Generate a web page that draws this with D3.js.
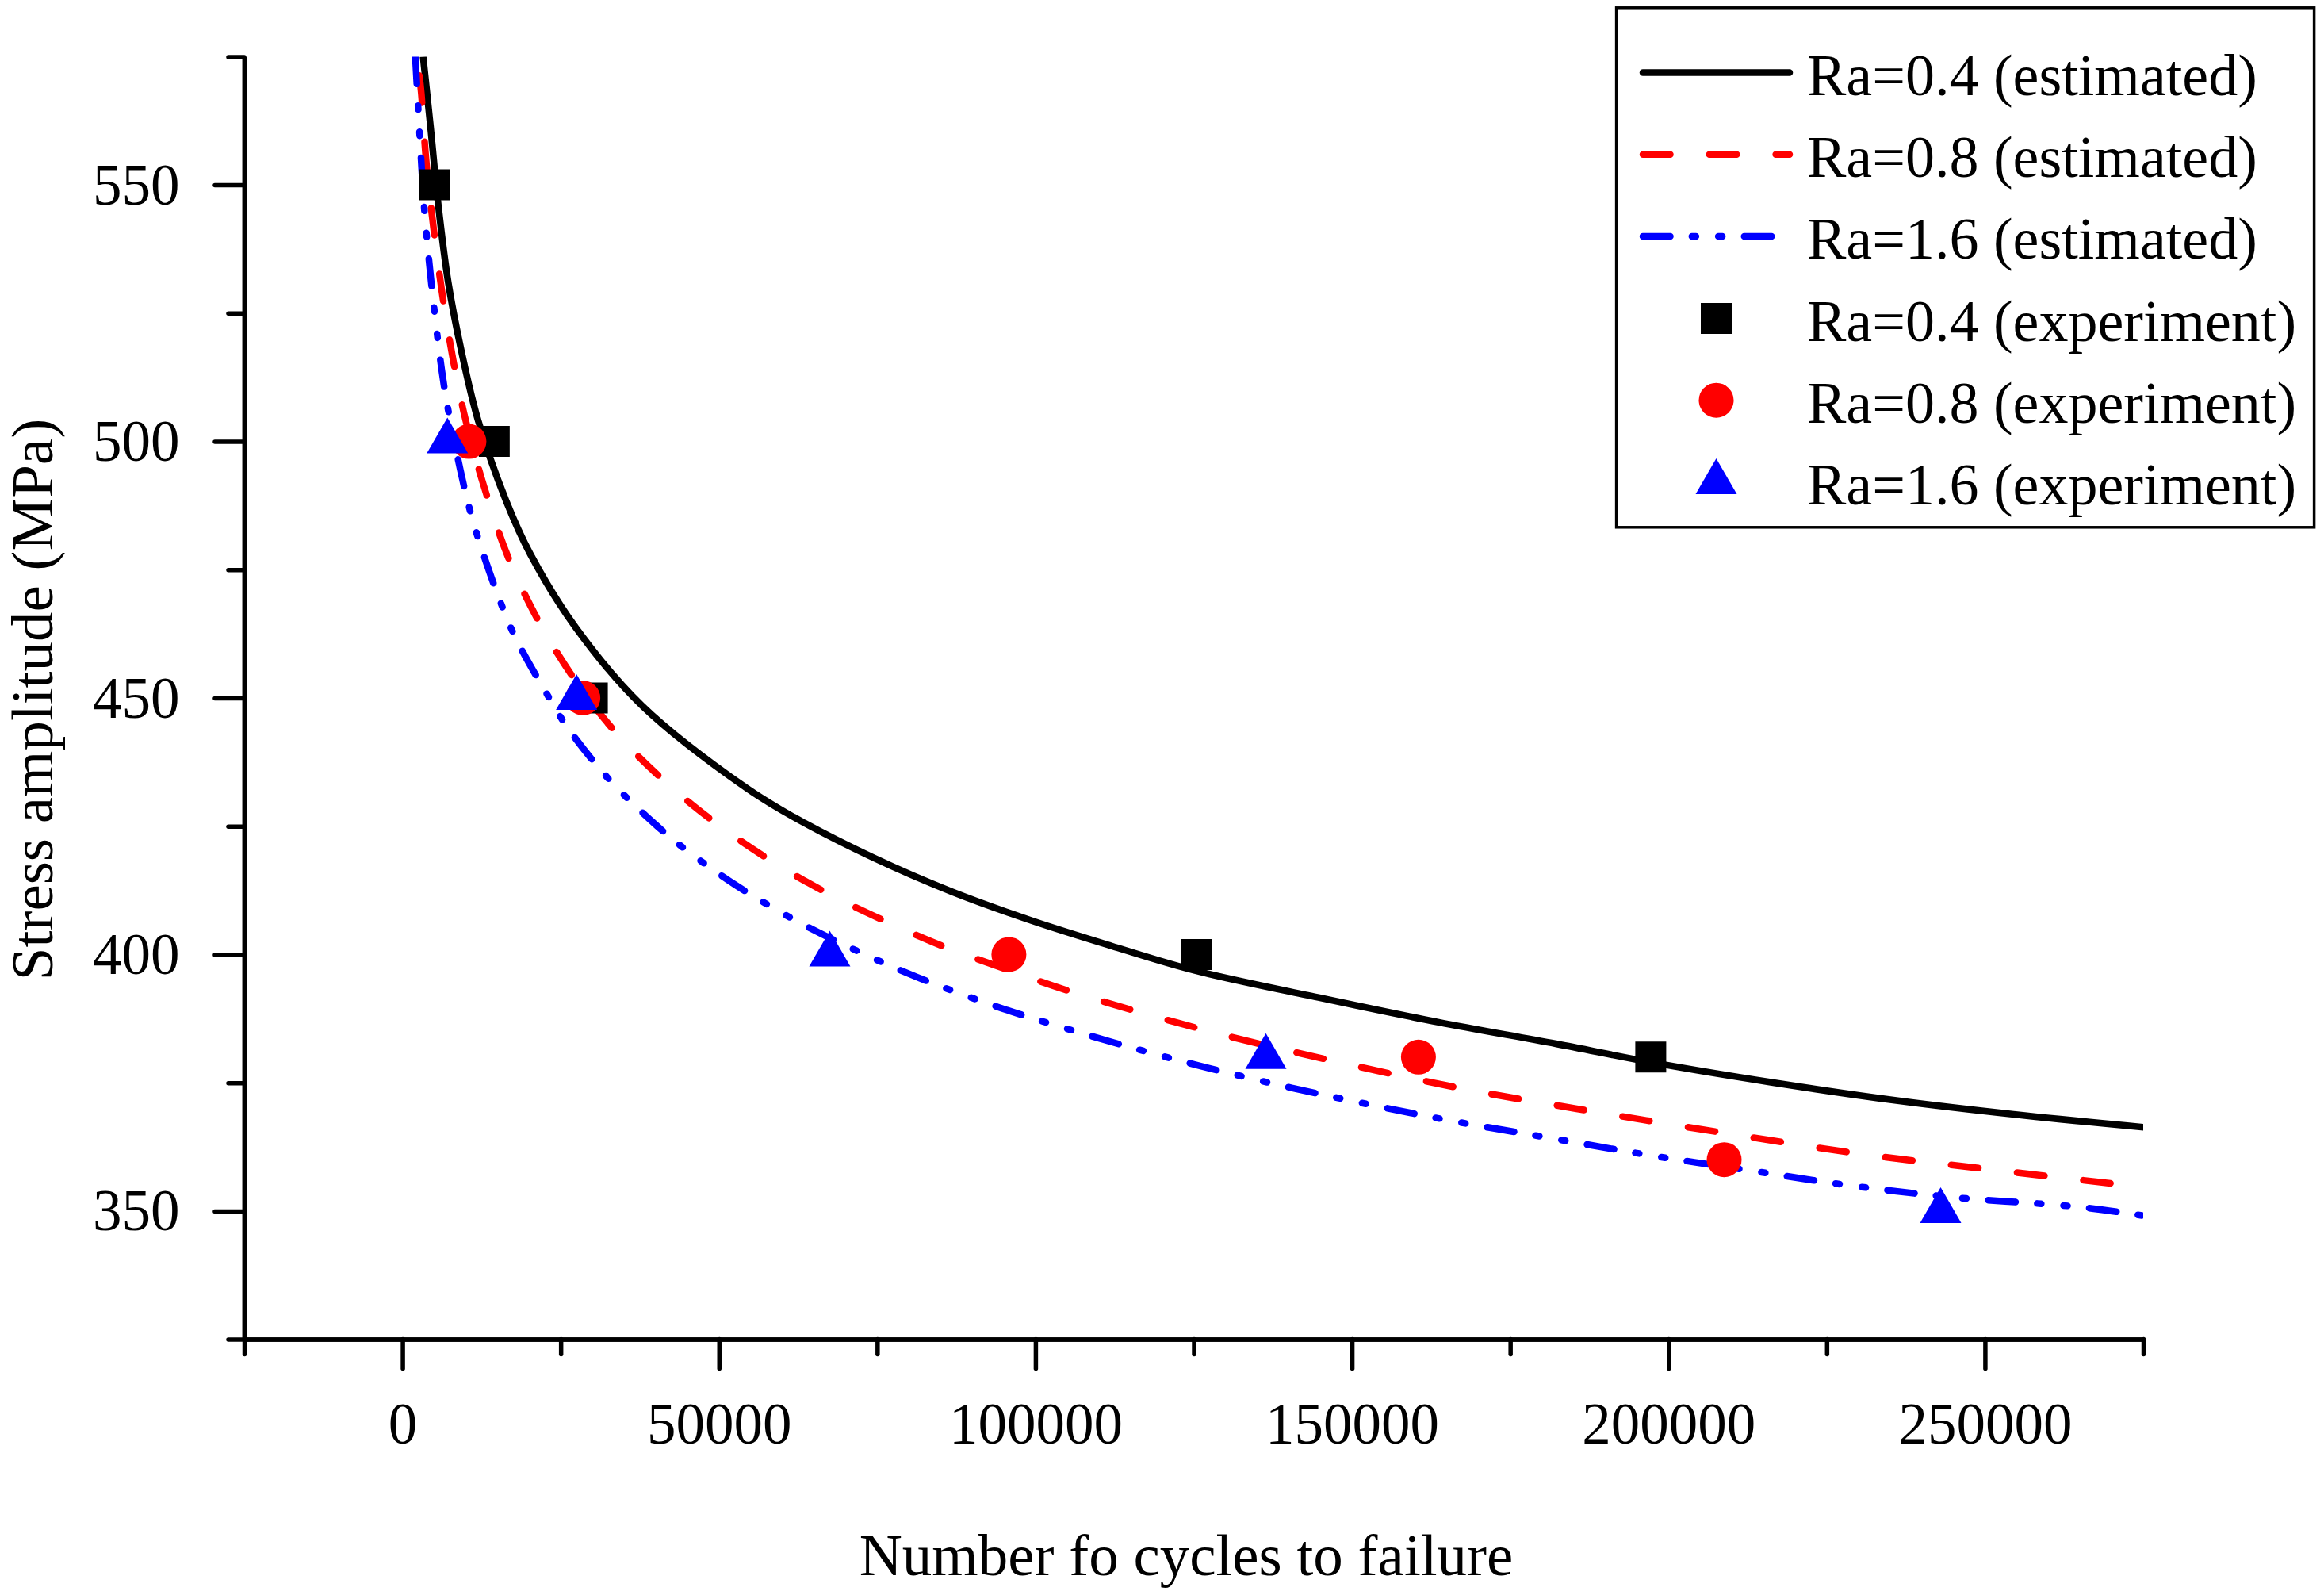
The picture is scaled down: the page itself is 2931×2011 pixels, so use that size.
<!DOCTYPE html>
<html>
<head>
<meta charset="utf-8">
<script src="https://cdn.jsdelivr.net/npm/d3@7"></script>
<style>
  html, body { margin: 0; padding: 0; background: #fff; }
  svg { display: block; }
  text { font-family: "Liberation Serif", "Times New Roman", serif; fill: #000; }
</style>
</head>
<body>
<svg id="chart" width="2931" height="2011"></svg>
<script>
// ---------------- data ----------------
const xTicksMajor = [0, 50000, 100000, 150000, 200000, 250000];
const xTicksMinor = [-25000, 25000, 75000, 125000, 175000, 225000, 275000];
const yTicksMajor = [350, 400, 450, 500, 550];
const yTicksMinor = [325, 375, 425, 475, 525, 575];

// estimated curves [cycles, stress]
const estRa04 = [[3260,575],[4430,561.3],[5700,545.6],[7230,531.0],[9310,517.6],[11950,504.1],
  [16380,488.4],[20220,478.0],[27330,463.8],[37850,448.5],[54400,432.4],[61790,426.8],[74330,418.9],
  [86860,412.2],[99400,406.6],[111930,401.7],[125080,396.9],[145150,391.5],[163680,386.8],
  [182210,382.6],[197640,378.9],[216160,375.1],[236230,371.5],[256300,368.6],[275290,366.3]];
const estRa08 = [[2670,571.3],[2971,567.9],[3723,554.9],[4888,541.8],[6267,528.9],[7984,516.0],
  [9990,504.1],[12910,491.1],[16580,477.8],[21060,466.0],[26700,454.5],[33400,443.7],[40860,434.4],
  [48850,426.2],[57530,418.8],[66430,412.4],[76080,406.6],[85820,401.4],[95850,396.9],[105750,392.7],
  [126020,385.5],[146860,379.3],[167700,373.8],[188540,369.3],[209380,365.1],[230520,361.1],
  [251510,358.0],[272660,355.0],[275000,354.7]];
const estRa16 = [[2030,575],[2419,566.3],[2758,558.9],[3384,546.4],[3886,539.1],[4926,526.7],
  [6180,514.1],[7107,506.9],[9150,494.4],[10530,487.2],[12250,480.0],[15630,468.2],[17960,461.5],
  [22940,450.5],[26100,444.2],[32590,434.2],[39820,425.5],[44460,420.7],[52680,413.5],[62900,406.1],
  [71990,400.6],[81260,395.6],[92340,390.5],[102070,386.6],[117370,381.1],[133120,376.1],
  [148700,371.8],[164750,367.8],[180960,364.3],[196870,360.9],[212300,358.0],[228500,355.0],
  [244710,352.7],[264780,350.8],[275000,349.1]];

// experiments [cycles, stress]
const expRa04 = [[5000,550],[14500,500],[30000,450],[125400,400],[197200,380]];
const expRa08 = [[10500,500],[28500,450],[95800,400],[160500,380],[208800,360]];
const expRa16 = [[7100,500],[27500,450],[67500,400],[136400,380],[243000,350]];

const legendLabels = ["Ra=0.4 (estimated)", "Ra=0.8 (estimated)", "Ra=1.6 (estimated)",
  "Ra=0.4 (experiment)", "Ra=0.8 (experiment)", "Ra=1.6 (experiment)"];

// ---------------- layout ----------------
const svg = d3.select("#chart");
const L = 308, R = 2703, T = 71.4, B = 1688.6;
const x = d3.scaleLinear().domain([-25000, 275000]).range([L, R]);
const y = d3.scaleLinear().domain([325, 575]).range([B, T]);

const AXW = 5.5, LW = 8.5;
const redDash = "34.5,49.3";
const blueDash = "34.5,27.35,5,28.3,5,27.65";
const FS_TICK = 73, FS_TITLE = 75, FS_LEG = 74;

svg.append("defs").append("clipPath").attr("id", "clip")
  .append("rect").attr("x", L).attr("y", T).attr("width", R - L).attr("height", B - T);

// ---------------- axes ----------------
function styleAxis(g) {
  g.select(".domain").attr("stroke", "#000").attr("stroke-width", AXW);
  g.selectAll(".tick line").attr("stroke", "#000").attr("stroke-width", AXW).attr("stroke-linecap", "round");
  g.selectAll("text").style("font-size", FS_TICK + "px").attr("fill", "#000")
    .style("font-family", '"Liberation Serif","Times New Roman",serif');
}

const xMinor = svg.append("g").attr("transform", `translate(0,${B})`)
  .call(d3.axisBottom(x).tickValues(xTicksMinor).tickSize(19).tickSizeOuter(0).tickFormat(""));
styleAxis(xMinor);
const xMajor = svg.append("g").attr("transform", `translate(0,${B})`)
  .call(d3.axisBottom(x).tickValues(xTicksMajor).tickSize(37).tickSizeOuter(0).tickFormat(d3.format("d")));
styleAxis(xMajor);
xMajor.selectAll("text").attr("y", 1820 - B).attr("dy", 0);

const yMinor = svg.append("g").attr("transform", `translate(${L},0)`)
  .call(d3.axisLeft(y).tickValues(yTicksMinor).tickSize(20).tickSizeOuter(0).tickFormat(""));
styleAxis(yMinor);
const yMajor = svg.append("g").attr("transform", `translate(${L},0)`)
  .call(d3.axisLeft(y).tickValues(yTicksMajor).tickSize(37).tickSizeOuter(0).tickFormat(d3.format("d")));
styleAxis(yMajor);
yMajor.selectAll("text").attr("x", 226.5 - L).attr("dy", 0).attr("y", 24);

// axis titles
svg.append("text").attr("x", 1496).attr("y", 1986).attr("text-anchor", "middle")
  .style("font-size", FS_TITLE + "px").text("Number fo cycles to failure");
svg.append("text").attr("transform", "translate(66,882) rotate(-90)").attr("text-anchor", "middle")
  .style("font-size", FS_TITLE + "px").text("Stress amplitude (MPa)");

// ---------------- marks ----------------
const plot = svg.append("g").attr("clip-path", "url(#clip)");
const line = d3.line().x(d => x(d[0])).y(d => y(d[1])).curve(d3.curveCatmullRom.alpha(0.5));

const SQ = 39, CR = 22, TW = 52, TH = 45;
function squarePath(cx, cy) { return `M${cx - SQ/2},${cy - SQ/2}h${SQ}v${SQ}h${-SQ}Z`; }
function triPath(cx, cy) {
  return `M${cx},${cy - TH*2/3}L${cx + TW/2},${cy + TH/3}L${cx - TW/2},${cy + TH/3}Z`;
}

plot.append("path").datum(estRa04).attr("d", line).attr("fill", "none")
  .attr("stroke", "#000").attr("stroke-width", LW);

svg.append("g").selectAll("path").data(expRa04).join("path")
  .attr("d", d => squarePath(x(d[0]), y(d[1]))).attr("fill", "#000");
svg.append("g").selectAll("circle").data(expRa08).join("circle")
  .attr("cx", d => x(d[0])).attr("cy", d => y(d[1])).attr("r", CR).attr("fill", "#ff0000");
svg.append("g").selectAll("path").data(expRa16).join("path")
  .attr("d", d => triPath(x(d[0]), y(d[1]))).attr("fill", "#0000ff");

plot.append("path").datum(estRa08).attr("d", line).attr("fill", "none")
  .attr("stroke", "#ff0000").attr("stroke-width", LW).attr("stroke-dasharray", redDash)
  .attr("stroke-linecap", "round");
plot.append("path").datum(estRa16).attr("d", line).attr("fill", "none")
  .attr("stroke", "#0000ff").attr("stroke-width", LW).attr("stroke-dasharray", blueDash)
  .attr("stroke-linecap", "round");

// ---------------- legend ----------------
const lg = svg.append("g");
lg.append("rect").attr("x", 2038.6).attr("y", 9.8).attr("width", 880).attr("height", 655)
  .attr("fill", "#fff").attr("stroke", "#000").attr("stroke-width", 3.5);
const rowY = i => 91.5 + i * 103.3;
const lx0 = 2072, lx1 = 2257, mx = 2164.5;
const lineStyles = [
  {c: "#000", d: null},
  {c: "#ff0000", d: redDash},
  {c: "#0000ff", d: blueDash}
];
lineStyles.forEach((s, i) => {
  const p = lg.append("path").attr("d", `M${lx0},${rowY(i)}H${lx1}`)
    .attr("stroke", s.c).attr("stroke-width", LW).attr("stroke-linecap", "round").attr("fill", "none");
  if (s.d) p.attr("stroke-dasharray", s.d);
});
lg.append("path").attr("d", squarePath(mx, rowY(3))).attr("fill", "#000");
lg.append("circle").attr("cx", mx).attr("cy", rowY(4)).attr("r", CR).attr("fill", "#ff0000");
lg.append("path").attr("d", triPath(mx, rowY(5))).attr("fill", "#0000ff");

lg.selectAll("text.lab").data(legendLabels).join("text").attr("class", "lab")
  .attr("x", 2279).attr("y", (d, i) => rowY(i) + 28.3)
  .style("font-size", FS_LEG + "px").text(d => d);
</script>
</body>
</html>
